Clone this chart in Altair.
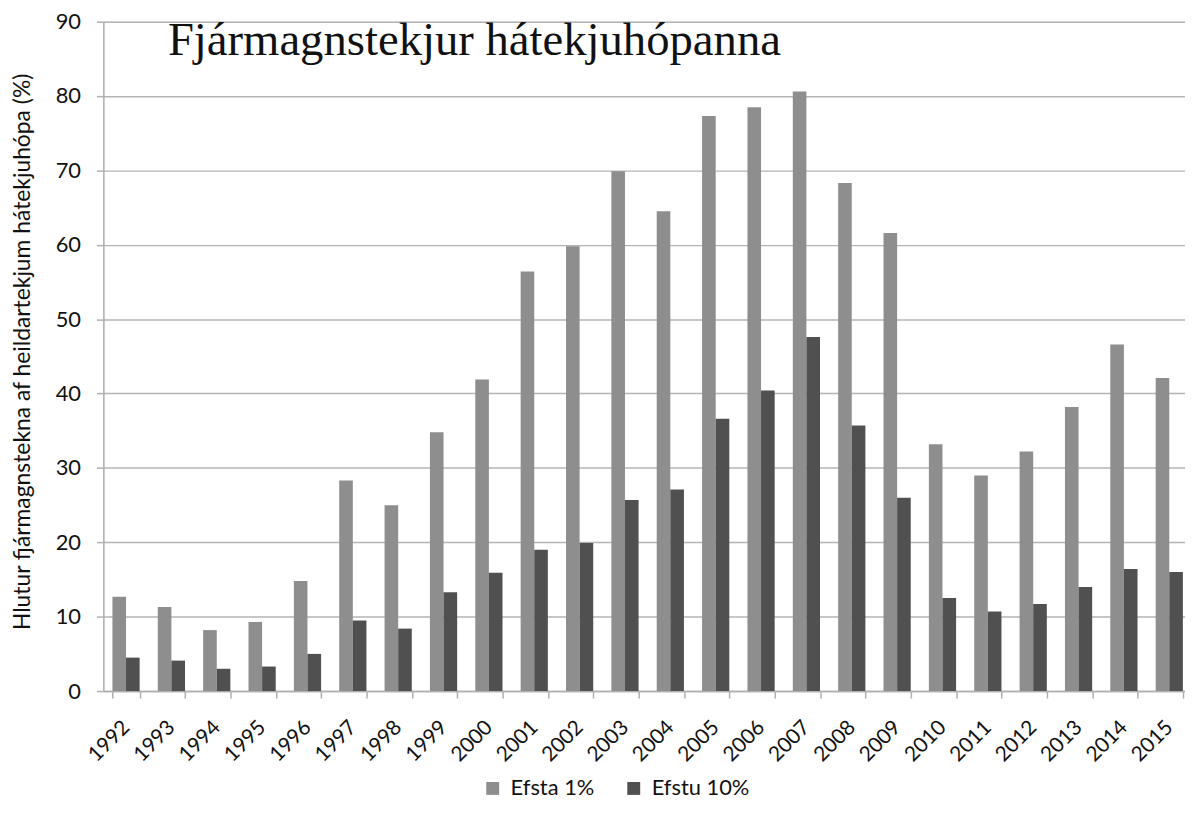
import altair as alt
import pandas as pd

years = [str(y) for y in range(1992, 2016)]
efsta_1 = [12.7, 11.3, 8.2, 9.3, 14.8, 28.3, 25.0, 34.8, 41.9, 56.4, 59.8, 69.9,
           64.5, 77.3, 78.5, 80.6, 68.3, 61.6, 33.2, 29.0, 32.2, 38.2, 46.6, 42.1]
efstu_10 = [4.5, 4.1, 3.0, 3.3, 5.0, 9.5, 8.4, 13.3, 15.9, 19.0, 19.9, 25.7,
            27.1, 36.6, 40.4, 47.6, 35.7, 26.0, 12.5, 10.7, 11.7, 14.0, 16.4, 16.0]
series = ["Efsta 1%", "Efstu 10%"]
colors = ["#8e8e8e", "#505050"]
title_text = "Fjármagnstekjur hátekjuhópanna"
y_title = "Hlutur fjármagnstekna af heildartekjum hátekjuhópa (%)"

rows = []
for i, yr in enumerate(years):
    rows.append({"year": yr, "group": series[0], "value": efsta_1[i]})
    rows.append({"year": yr, "group": series[1], "value": efstu_10[i]})
df = pd.DataFrame(rows)

bars = alt.Chart(df).mark_bar().encode(
    x=alt.X("year:N", sort=years, title=None,
            scale=alt.Scale(paddingInner=0.4, paddingOuter=0.2),
            axis=alt.Axis(labelAngle=-45, labelAlign="right", labelBaseline="middle",
                          labelFont="Lato", labelFontSize=21, labelColor="#111111",
                          labelPadding=26, tickBand="extent", tickSize=7,
                          tickColor="#b0b0b0", tickWidth=1.5, domainColor="#b0b0b0",
                          domainWidth=1.5, grid=False)),
    xOffset=alt.XOffset("group:N", sort=series),
    y=alt.Y("value:Q", title=y_title,
            scale=alt.Scale(domain=[0, 90], nice=False),
            axis=alt.Axis(values=list(range(0, 91, 10)), labelFont="Lato",
                          labelFontSize=22, labelColor="#111111", labelPadding=16,
                          tickSize=7, tickColor="#b0b0b0", tickWidth=1.5,
                          domainColor="#b0b0b0", domainWidth=1.5,
                          gridColor="#b4b4b4", gridWidth=1.5,
                          titleFont="Lato", titleFontSize=23, titleFontWeight="normal",
                          titleColor="#111111", titleAngle=-90, titleAlign="center",
                          titleBaseline="alphabetic", titleX=-74, titleY=332)),
    color=alt.Color("group:N", sort=series,
                    scale=alt.Scale(domain=series, range=colors),
                    legend=alt.Legend(title=None, orient="none", legendX=381, legendY=761,
                                      direction="horizontal", symbolType="square",
                                      symbolSize=169, symbolStrokeWidth=0,
                                      labelFont="Lato", labelFontSize=22,
                                      labelColor="#111111", labelOffset=7,
                                      columnPadding=28)),
)

title_df = pd.DataFrame({"t": [title_text]})
title = alt.Chart(title_df).mark_text(
    font="Liberation Serif", fontSize=47, align="left", baseline="alphabetic",
    color="#111111"
).encode(x=alt.value(65), y=alt.value(34), text="t:N")

chart = alt.layer(bars, title).properties(
    width=1096, height=674,
    autosize=alt.AutoSizeParams(type="none"),
    padding={"left": 96, "top": 11, "right": -7, "bottom": 120},
).configure_view(stroke=None).configure(background="white")

chart.save("out.html", embed_options={"renderer": "svg", "actions": False})
